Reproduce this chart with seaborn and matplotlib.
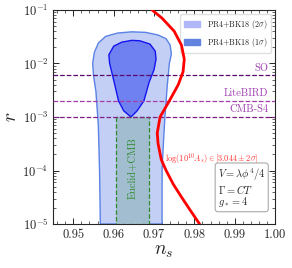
import numpy as np
import pandas as pd
import matplotlib
matplotlib.use("Agg")
import matplotlib.pyplot as plt
import seaborn as sns
from matplotlib.patches import Patch
from matplotlib.ticker import MultipleLocator, LogLocator, NullFormatter

# 2 sigma contour (PR4+BK18), boundary points (ns, r)
ns_2s = [0.9567, 0.9565, 0.9562, 0.9556, 0.9550, 0.9548, 0.9552, 0.9562, 0.9580,
         0.9610, 0.9645, 0.9680, 0.9710, 0.9730, 0.9740, 0.9743, 0.9738, 0.9733,
         0.9730, 0.9727, 0.9723, 0.9720, 0.9720]
r_2s = [1e-5, 1e-4, 7e-4, 3e-3, 6e-3, 1e-2, 1.6e-2, 2.4e-2, 3.2e-2,
        3.7e-2, 3.9e-2, 3.8e-2, 3.4e-2, 2.9e-2, 2.2e-2, 1.5e-2, 1e-2, 4e-3,
        2e-3, 1e-3, 3e-4, 1e-4, 1e-5]

# 1 sigma contour
ns_1s = [0.9643, 0.9625, 0.9612, 0.9600, 0.9590, 0.9588, 0.9600, 0.9620, 0.9645,
         0.9665, 0.9690, 0.9703, 0.9705, 0.9700, 0.9688, 0.9675, 0.9658]
r_1s = [1.0e-3, 1.3e-3, 2.0e-3, 4.9e-3, 1.0e-2, 1.45e-2, 2.1e-2, 2.5e-2, 2.7e-2,
        2.65e-2, 2.3e-2, 1.7e-2, 1.2e-2, 7.6e-3, 4.5e-3, 2.0e-3, 1.3e-3]

# model prediction (red curve)
ns_model = [0.9695, 0.9720, 0.9750, 0.9768, 0.9775, 0.9772, 0.9760, 0.9738, 0.9715,
            0.9708, 0.9710, 0.9718, 0.9730, 0.9748, 0.9768, 0.9790, 0.9813]
r_model = [1e-1, 7e-2, 4e-2, 2.2e-2, 1.2e-2, 7e-3, 4e-3, 2e-3, 1e-3,
           5e-4, 3.2e-4, 1.6e-4, 1e-4, 5.5e-5, 3.2e-5, 1.8e-5, 1e-5]

# future experiments
exp_names = ["SO", "LiteBIRD", "CMB-S4"]
exp_r = [6e-3, 2e-3, 1e-3]
exp_colors = ["#5a0a6e", "#a23ca8", "#7e1f86"]

# Euclid+CMB forecast band
euclid_ns = [0.9607, 0.9687]
euclid_r = [1e-5, 1e-3]

xticks = [0.95, 0.96, 0.97, 0.98, 0.99, 1.00]

sns.set_style("ticks")
plt.rcParams['font.family'] = ['cmr10']
plt.rcParams['mathtext.fontset'] = 'cm'
plt.rcParams['axes.formatter.use_mathtext'] = True
plt.rcParams['axes.unicode_minus'] = False

fig = plt.figure(figsize=(2.92, 2.68), dpi=100)
ax = fig.add_axes([0.182, 0.164, 0.760, 0.799])

ax.fill(ns_2s, r_2s, facecolor='#c4cff5', edgecolor='#5b82e6', linewidth=1.0, zorder=1)
ax.fill(ns_1s, r_1s, facecolor='#6f80f0', edgecolor='#1414f0', linewidth=1.0, zorder=2)

ax.fill_between(euclid_ns, euclid_r[0], euclid_r[1], facecolor='#a3bdd0',
                edgecolor='#2e8b2e', linestyle='--', linewidth=0.9, zorder=3)
ax.text(np.mean(euclid_ns), 1.1e-4, 'Euclid+CMB', rotation=90, color='#2e8b2e',
        fontsize=7.5, ha='center', va='center', zorder=4)

for name, rv, c in zip(exp_names, exp_r, exp_colors):
    ax.axhline(rv, color=c, linestyle='--', linewidth=0.9, zorder=4)
    ax.text(0.9983, rv * 1.12, name, color='#a040b0', fontsize=7.5,
            ha='right', va='bottom', zorder=5)

df_model = pd.DataFrame({'ns': ns_model, 'r': r_model})
sns.lineplot(data=df_model, x='ns', y='r', sort=False, estimator=None, color='#ff0000',
             linewidth=2.0, ax=ax, zorder=6)
ax.text(0.9726, 1.6e-4, r'$\log(10^{10}A_s)\in[3.044\pm2\sigma]$', color='#ff3030',
        fontsize=6.0, ha='left', va='center', zorder=7)

ax.text(0.9858, 1.9e-5, '$V=\\lambda\\phi^4/4$\n$\\Gamma=CT$\n$g_*=4$', fontsize=7.5,
        ha='left', va='bottom', linespacing=0.95, zorder=7,
        bbox=dict(boxstyle='round,pad=0.25', facecolor='white', edgecolor='#aaaaaa', linewidth=0.8))

handles = [Patch(facecolor='#b0b6f8', edgecolor='#b0b6f8', label=r'PR4+BK18 ($2\sigma$)'),
           Patch(facecolor='#6282e0', edgecolor='#6282e0', label=r'PR4+BK18 ($1\sigma$)')]
ax.legend(handles=handles, loc='upper right', fontsize=5.8, frameon=True, framealpha=0.9,
          edgecolor='#dddddd', handlelength=2.0, borderpad=0.5, labelspacing=0.6)

ax.set_yscale('log')
ax.set_xlim(0.945, 1.0)
ax.set_ylim(1e-5, 1e-1)
ax.set_xticks(xticks)
ax.set_xticklabels([f'{v:.2f}' for v in xticks])
ax.xaxis.set_minor_locator(MultipleLocator(0.002))
ax.yaxis.set_major_locator(LogLocator(base=10, numticks=10))
ax.yaxis.set_minor_locator(LogLocator(base=10, subs=np.arange(2, 10), numticks=10))
ax.yaxis.set_minor_formatter(NullFormatter())
ax.tick_params(which='both', direction='in', top=True, right=True, labelsize=9)
ax.tick_params(which='major', length=4, width=0.7)
ax.tick_params(which='minor', length=2, width=0.5)
for s in ax.spines.values():
    s.set_linewidth(0.8)
ax.set_xlabel(r'$n_s$', fontsize=14, labelpad=1)
ax.set_ylabel(r'$r$', fontsize=14, labelpad=2)

fig.savefig('out.png', dpi=100)
